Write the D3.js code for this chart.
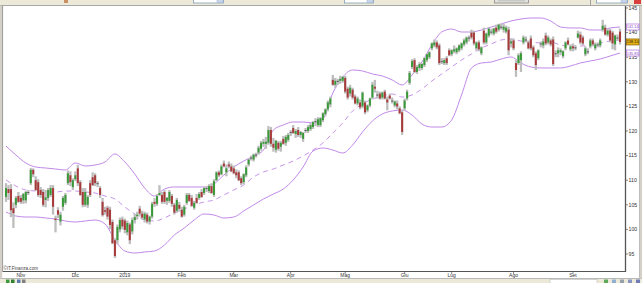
<!DOCTYPE html>
<html><head><meta charset="utf-8">
<script src="https://cdn.jsdelivr.net/npm/d3@7"></script>
<style>html,body{margin:0;padding:0;background:#fff;overflow:hidden}svg{display:block}</style>
</head><body>
<svg id="c" width="642" height="283"></svg>
<script>
// [open, high, low, close]
const candles = [
[106.6,109.4,105.6,108.4],[108.2,109.0,106.0,107.4],[108.2,109.2,102.5,103.9],[104.3,105.5,100.3,103.3],[105.0,106.8,104.3,106.4],
[106.8,107.6,105.4,105.6],[106.4,107.0,105.2,105.6],[105.9,107.4,105.2,107.2],[105.9,107.8,105.3,107.6],[107.6,108.0,107.0,107.6],
[109.4,112.5,109.0,112.1],[112.1,112.4,110.6,111.2],[110.0,110.8,107.8,108.0],[109.6,110.2,106.6,107.0],[108.0,108.6,106.4,107.0],
[107.6,108.2,104.6,105.0],[106.0,108.0,104.5,106.5],[106.4,108.4,105.8,108.0],[107.0,109.0,106.6,108.4],[108.4,109.0,103.0,104.6],
[102.2,102.8,99.4,101.9],[103.9,104.5,102.3,103.0],[101.6,103.6,100.8,103.0],[104.6,106.8,103.8,106.4],[105.4,107.4,105.0,107.0],
[109.4,112.0,109.0,111.4],[111.0,111.8,108.8,109.6],[108.6,110.4,108.0,110.0],[110.2,111.8,109.8,111.0],[112.4,113.1,108.8,109.4],
[109.6,110.0,106.8,107.0],[107.6,108.4,104.5,105.0],[105.0,108.4,104.6,107.6],[105.0,107.0,104.4,106.6],[109.4,110.0,106.6,107.0],
[110.6,111.6,108.8,109.0],[111.0,111.4,108.8,109.4],[109.2,109.8,108.6,109.4],[108.4,108.8,106.4,107.0],[105.6,106.4,102.6,102.9],
[103.9,104.6,103.0,103.6],[104.4,104.8,102.0,102.6],[104.0,104.6,100.0,100.9],[101.5,102.0,97.0,97.2],[97.8,98.2,94.2,94.6],
[97.8,101.0,97.0,100.5],[100.0,102.4,99.4,101.9],[102.0,102.6,100.0,100.6],[101.8,102.2,99.2,99.9],[99.4,101.8,98.8,101.3],
[101.0,101.4,97.0,97.8],[99.6,102.4,99.0,101.9],[101.9,103.2,101.2,102.5],[102.7,103.6,102.0,103.0],[104.2,104.8,102.6,103.2],
[103.2,103.8,102.0,102.4],[102.0,103.6,101.4,103.2],[103.0,103.4,101.2,101.6],[101.6,102.8,101.0,102.6],[102.6,105.6,102.2,105.2],
[105.6,106.4,104.6,105.2],[105.2,107.2,104.8,106.8],[107.0,109.0,106.8,107.4],[107.0,107.6,105.2,105.6],[107.6,108.0,105.2,105.6],
[105.8,106.6,105.0,106.4],[105.8,108.0,105.4,107.6],[106.8,107.2,104.6,105.2],[105.0,105.4,103.0,103.4],[103.8,106.4,103.4,106.0],
[105.0,105.6,103.6,104.2],[104.0,104.6,102.4,102.6],[103.0,105.0,102.6,104.6],[105.4,107.4,105.0,107.0],[107.0,107.4,105.6,105.8],
[106.4,107.0,104.6,104.8],[104.4,105.8,104.0,105.4],[106.4,107.2,105.2,105.4],[106.4,107.6,106.0,107.2],[107.6,108.2,106.4,106.6],
[107.4,108.6,107.0,108.4],[108.2,108.8,107.6,108.4],[107.8,109.2,107.4,108.8],[108.8,109.4,107.2,107.4],[107.0,110.2,106.6,109.8],
[110.0,111.8,109.8,111.6],[111.6,112.0,110.6,111.0],[111.2,113.2,111.0,112.8],[113.4,114.0,112.6,112.8],[111.6,113.2,110.8,112.4],
[113.2,113.8,112.4,112.8],[112.8,113.4,111.6,111.8],[112.4,113.0,111.2,111.4],[111.6,112.2,110.4,111.0],[111.6,112.0,109.8,110.0],
[110.4,110.8,109.0,109.4],[109.6,111.4,109.2,111.2],[111.0,113.0,110.6,112.6],[113.2,114.4,112.8,114.2],[114.4,115.0,114.0,114.6],
[114.2,115.4,113.8,115.2],[115.0,115.6,114.6,115.2],[115.6,117.0,115.2,116.6],[116.4,118.0,116.0,117.6],[117.4,118.4,116.8,117.8],
[117.4,118.8,116.4,117.8],[117.6,121.0,117.2,120.2],[120.2,120.8,116.8,117.4],[117.4,118.6,115.8,116.6],[116.2,118.2,115.6,118.0],
[117.6,118.0,116.0,116.4],[116.8,118.0,115.8,117.6],[118.4,119.0,117.2,117.4],[117.6,119.2,117.0,118.8],[118.2,119.6,117.8,119.2],
[119.6,120.2,119.0,119.8],[120.6,121.2,119.4,119.6],[119.4,120.4,118.6,120.0],[120.2,120.8,118.8,119.2],[119.2,120.0,118.6,119.8],
[118.4,119.8,117.8,119.6],[120.0,120.6,119.6,120.2],[120.0,121.2,119.6,120.8],[120.4,121.6,120.0,121.2],[120.8,122.0,120.4,121.8],
[121.8,122.6,121.0,122.0],[121.2,122.8,120.8,122.4],[121.2,122.8,120.8,122.6],[122.2,123.8,121.8,123.6],[123.4,124.6,123.0,124.4],
[124.4,126.2,124.0,125.8],[125.4,127.0,124.8,126.6],[130.4,131.4,129.2,129.4],[129.4,130.8,128.8,130.2],[130.0,130.6,129.4,130.2],
[130.2,131.2,129.6,130.6],[130.2,131.2,129.8,131.0],[130.8,131.2,127.6,128.0],[128.6,129.0,126.4,126.8],[127.6,129.4,127.0,128.8],
[128.4,128.8,126.4,126.8],[127.0,127.4,125.4,125.6],[125.6,127.0,125.2,126.6],[125.8,126.4,124.4,124.8],[125.0,128.0,124.6,127.8],
[125.8,126.2,123.4,123.8],[124.2,125.4,123.8,125.2],[125.2,126.8,124.8,126.6],[126.8,130.0,126.4,129.4],[129.0,130.4,127.8,128.6],
[127.4,128.2,126.6,127.2],[127.6,128.0,126.4,126.6],[126.8,128.0,126.4,127.8],[128.0,128.4,126.4,126.6],[126.4,127.0,124.2,125.8],
[127.2,127.6,126.4,126.6],[126.2,126.8,125.6,126.0],[125.2,126.2,124.8,126.0],[125.6,126.2,124.4,125.0],[124.6,125.0,123.4,123.6],
[123.8,124.2,119.2,119.8],[124.6,126.6,124.2,126.2],[126.6,128.4,126.2,128.0],[129.8,132.2,129.4,131.8],[133.0,134.6,132.6,134.2],
[134.4,134.8,131.8,132.0],[132.0,133.4,131.6,133.0],[132.8,134.0,132.2,133.6],[132.8,133.8,132.4,133.6],[133.4,135.0,133.0,134.8],
[134.4,135.8,134.0,135.6],[135.0,136.2,134.6,136.0],[136.8,138.0,136.4,137.8],[137.4,138.6,137.0,138.0],[138.0,138.4,136.6,137.0],
[137.4,137.8,133.4,133.8],[134.0,134.8,133.6,134.2],[133.8,134.8,133.4,134.4],[134.8,135.2,133.4,133.8],[136.4,136.8,135.2,135.4],
[135.6,136.6,135.2,136.4],[136.2,137.4,135.8,136.6],[136.0,137.0,135.6,136.8],[136.4,137.6,136.0,137.4],[136.8,138.0,136.4,137.8],
[137.6,138.8,137.2,138.4],[138.0,139.2,137.6,139.0],[138.8,139.4,138.2,139.0],[140.0,140.6,138.6,139.0],[140.0,140.4,137.4,137.8],
[136.8,138.2,136.4,138.0],[138.0,138.4,136.2,136.6],[135.8,137.2,135.4,137.0],[140.4,141.0,137.6,138.0],[138.0,140.0,137.6,139.8],
[139.4,141.0,139.0,140.8],[140.2,140.8,139.6,140.0],[139.8,141.0,139.4,140.8],[141.0,141.6,139.8,140.2],[140.6,141.8,140.2,141.6],
[141.2,141.8,140.6,141.0],[140.6,141.8,140.0,141.2],[140.2,141.4,139.8,141.0],[140.6,141.2,135.4,136.4],[137.8,138.8,137.0,138.2],
[138.4,138.8,136.4,136.8],[133.8,134.4,131.0,132.4],[133.8,135.8,133.4,135.4],[134.4,136.2,132.0,135.8],[138.0,139.4,137.6,139.0],
[138.4,139.2,138.0,138.6],[138.0,138.4,136.6,136.8],[138.8,139.4,136.4,136.8],[137.0,137.4,135.0,135.4],[135.8,136.2,132.4,133.4],
[134.8,136.6,134.4,136.4],[137.6,138.2,137.0,137.8],[137.4,138.8,136.8,138.2],[139.4,140.0,137.4,137.8],[138.0,139.4,137.6,139.0],
[138.4,138.8,137.2,137.6],[138.6,139.2,133.2,133.6],[135.6,136.4,135.0,135.8],[135.8,137.0,135.0,136.4],[136.0,136.8,135.4,136.4],
[135.2,136.4,134.8,136.2],[136.8,138.2,136.4,138.0],[138.4,139.0,137.4,137.6],[136.6,137.6,136.2,137.2],[137.2,137.8,136.2,136.8],
[136.8,137.4,136.4,137.0],[139.0,140.4,138.8,139.8],[139.6,140.2,137.6,138.0],[139.0,139.4,137.4,137.8],[135.6,137.2,135.2,136.8],
[136.0,136.8,135.6,136.2],[137.2,138.8,136.8,138.4],[138.4,138.8,137.2,137.6],[136.8,138.0,136.4,137.6],[137.4,138.0,137.0,137.6],
[137.4,138.8,137.0,138.4],[140.6,142.6,140.2,141.4],[141.0,141.6,139.4,139.6],[139.6,140.8,139.2,140.4],[140.4,140.8,138.0,138.4],
[140.0,140.4,136.6,137.8],[137.6,139.6,136.4,139.4],[139.0,139.6,138.4,138.8],[140.2,140.8,137.6,138.1]
];
// Bollinger bands, one value every 4 sessions starting at the first session
const bandStep = 4;
const upperBand = [116.95,115.12,113.50,112.68,112.48,112.28,112.07,113.50,112.89,113.09,113.70,115.33,113.70,111.26,108.41,106.79,108.21,108.62,108.62,108.62,108.62,109.23,111.06,112.68,113.90,114.92,116.14,120.20,121.22,121.83,121.83,121.63,122.44,127.72,130.98,132.40,132.20,131.59,131.18,130.37,129.35,131.38,134.02,137.48,140.12,140.73,140.12,140.12,140.53,141.14,141.75,142.36,142.76,142.97,142.97,142.36,141.14,140.94,140.94,140.53,140.53,140.94,141.14];
const middleBand = [110.04,108.82,108.01,107.80,107.60,107.60,107.80,107.80,107.60,107.40,106.79,106.18,104.55,103.13,101.91,101.71,102.32,103.33,104.15,104.96,105.57,105.98,106.99,108.01,109.02,110.65,111.67,112.28,113.09,113.90,114.92,116.14,117.56,119.59,121.63,124.07,125.49,126.50,127.11,127.52,126.91,127.32,128.54,130.16,131.59,133.01,134.43,135.65,136.87,137.68,138.50,138.70,138.29,138.09,137.89,138.09,137.48,137.28,137.28,137.48,137.89,138.29,138.50];
const lowerBand = [103.54,102.72,102.52,102.52,102.32,102.11,101.71,101.50,101.71,101.91,101.10,97.85,95.61,95.20,95.41,95.61,96.83,98.86,100.28,101.91,103.13,102.93,102.32,102.52,103.74,104.96,106.18,107.19,108.21,110.04,112.68,115.93,116.54,116.14,115.53,117.15,119.80,122.03,123.46,124.07,124.27,123.25,121.42,120.81,120.81,122.24,127.32,132.81,133.82,134.02,134.63,135.04,133.82,133.01,132.81,132.81,132.81,133.21,133.82,134.23,134.63,135.24,135.85];
const yTicks = [95,100,105,110,115,120,125,130,135,140,145];
const monthLabels = ["Nov","Dic","2019","Feb","Mar","Apr","Mag","Giu","Lug","Ago","Set"];
const monthStartIndex = [6,28,48,71,92,115,137,161,180,205,229];
const sourceLabel = "\u00A9IT.Finanza.com";

const svg = d3.select("#c");
const P = {left:3, right:625, top:6, bottom:271};
const x = d3.scaleLinear().domain([0, candles.length-1]).range([6, 620]);
const y = d3.scaleLinear().domain([95,145]).range([254,8]);
const font = "Liberation Sans, Arial, sans-serif";

// page / chrome
svg.append("rect").attr("width",642).attr("height",283).attr("fill","#fff");
svg.append("rect").attr("x",0).attr("y",0).attr("width",642).attr("height",5.5).attr("fill","#ece9d8");
svg.append("line").attr("x1",0).attr("x2",642).attr("y1",5.5).attr("y2",5.5).attr("stroke","#a8a8a8").attr("stroke-width",1);
[[193,30],[344,29],[596,31]].forEach(([bx,bw])=>{
  svg.append("rect").attr("x",bx+0.5).attr("y",-2).attr("width",bw).attr("height",5).attr("fill","#fff").attr("stroke","#7f9db9").attr("stroke-width",0.8);
  svg.append("rect").attr("x",bx+bw-6).attr("y",-1.5).attr("width",6).attr("height",4).attr("fill","#c8d4ec").attr("stroke","#9aaccc").attr("stroke-width",0.5);
});
svg.append("rect").attr("x",494.5).attr("y",-2).attr("width",34).attr("height",5).attr("fill","#e4e2da").attr("stroke","#8a8a8a").attr("stroke-width",0.8);
svg.append("rect").attr("x",498).attr("y",-0.5).attr("width",27).attr("height",2).attr("fill","#c8c8c8");
svg.append("rect").attr("x",64).attr("y",0).attr("width",4).attr("height",3).attr("fill","#c89060");
svg.append("line").attr("x1",590.5).attr("x2",590.5).attr("y1",0).attr("y2",5).attr("stroke","#a0a0a0");
svg.append("rect").attr("x",634).attr("y",-1).attr("width",7).attr("height",5).attr("fill","#d84040");

// bottom toolbar
svg.append("rect").attr("x",0).attr("y",278.5).attr("width",642).attr("height",5).attr("fill","#ece9d8");
svg.append("line").attr("x1",0).attr("x2",642).attr("y1",278.5).attr("y2",278.5).attr("stroke","#b8b8b8");
[[6,"#3a9a3a"],[11,"#2f7f2f"],[17,"#5a7ab0"],[22,"#808080"]].forEach(([ix,c])=>{
  svg.append("rect").attr("x",ix).attr("y",279.5).attr("width",3.5).attr("height",3.5).attr("fill",c);
});
svg.append("rect").attr("x",550).attr("y",279.5).attr("width",47).attr("height",4).attr("fill","#fff").attr("stroke","#b0b0b0").attr("stroke-width",0.5);
[[604,"#3a9a3a"],[612,"#7aa0d0"],[620,"#8090a0"],[628,"#7080c0"],[636,"#5060b0"]].forEach(([ix,c])=>{
  svg.append("rect").attr("x",ix).attr("y",279.5).attr("width",4).attr("height",3.5).attr("fill",c).attr("opacity",0.8);
});

// left & right frames
svg.append("rect").attr("x",0).attr("y",5.5).attr("width",2.2).attr("height",273).attr("fill","#d4d0c8");
svg.append("line").attr("x1",2.6).attr("x2",2.6).attr("y1",5.5).attr("y2",272).attr("stroke","#8c8c8c").attr("stroke-width",0.9);
svg.append("rect").attr("x",639.5).attr("y",5.5).attr("width",2.5).attr("height",273).attr("fill","#d4d0c8");
svg.append("line").attr("x1",639.5).attr("x2",639.5).attr("y1",5.5).attr("y2",278).attr("stroke","#a0a0a0").attr("stroke-width",0.6);

// clip for plot
svg.append("defs").append("clipPath").attr("id","pc").append("rect")
  .attr("x",P.left+0.5).attr("y",P.top).attr("width",P.right-P.left-0.5).attr("height",P.bottom-P.top);
const g = svg.append("g").attr("clip-path","url(#pc)");

// bands
const bandLine = d3.line().x((d,i)=>x(i*bandStep)).y(d=>y(d)).curve(d3.curveMonotoneX);
const bandColor = "#c088e8";
g.append("path").attr("d",bandLine(upperBand)).attr("fill","none").attr("stroke",bandColor).attr("stroke-width",1);
g.append("path").attr("d",bandLine(lowerBand)).attr("fill","none").attr("stroke",bandColor).attr("stroke-width",1);
g.append("path").attr("d",bandLine(middleBand)).attr("fill","none").attr("stroke",bandColor).attr("stroke-width",0.9).attr("stroke-dasharray","5,4");

// candles
const cg = g.append("g");
cg.selectAll("rect.w").data(candles).join("rect").attr("class","w")
  .attr("x",(d,i)=>x(i)-1.15).attr("width",2.3)
  .attr("y",d=>y(d[1])).attr("height",d=>Math.max(1,y(d[2])-y(d[1])))
  .attr("fill","#bdbdbd");
cg.selectAll("rect.b").data(candles).join("rect").attr("class","b")
  .attr("x",(d,i)=>x(i)-1).attr("width",2)
  .attr("y",d=>y(Math.max(d[0],d[3])))
  .attr("height",d=>Math.max(1,Math.abs(y(d[0])-y(d[3]))))
  .attr("fill",d=>Math.abs(d[0]-d[3])<0.25?"#505050":(d[3]>d[0]?"#3a9a3a":"#a83a3a"));

// axes lines
svg.append("line").attr("x1",P.left).attr("x2",P.right).attr("y1",P.bottom+0.5).attr("y2",P.bottom+0.5).attr("stroke","#555").attr("stroke-width",1.2);
svg.append("line").attr("x1",P.right+0.5).attr("x2",P.right+0.5).attr("y1",P.top).attr("y2",P.bottom+1).attr("stroke","#555").attr("stroke-width",1.3);

// y ticks
const yt = svg.append("g");
yTicks.forEach(t=>{
  yt.append("line").attr("x1",P.right+1).attr("x2",P.right+3).attr("y1",y(t)).attr("y2",y(t)).attr("stroke","#555").attr("stroke-width",0.7);
  yt.append("text").attr("x",P.right+3.5).attr("y",y(t)+1.8).text(t)
    .attr("font-family",font).attr("font-size",5.2).attr("fill","#333");
});

// x ticks
const xt = svg.append("g");
monthStartIndex.forEach((mi,k)=>{
  const xx = x(mi);
  xt.append("line").attr("x1",xx).attr("x2",xx).attr("y1",P.bottom+1).attr("y2",P.bottom+3).attr("stroke","#555").attr("stroke-width",0.7);
  xt.append("text").attr("x",xx).attr("y",277.3).attr("text-anchor","middle").text(monthLabels[k])
    .attr("font-family",font).attr("font-size",5).attr("fill","#333");
});

// source label
svg.append("text").attr("x",3.5).attr("y",270).text(sourceLabel)
  .attr("font-family",font).attr("font-size",4.6).attr("fill","#444");

// value boxes on the right axis
const fmt = d3.format(".2f");
const lastIdx = candles.length-1;
const boxes = [
  {v: upperBand[upperBand.length-1], fill:"#fff", stroke:"#b070e0", text:"#9040c0"},
  {v: candles[lastIdx][3], fill:"#e8b010", stroke:"#806000", text:"#222"},
  {v: lowerBand[lowerBand.length-1], fill:"#fff", stroke:"#b070e0", text:"#9040c0"}
];
boxes.forEach(b=>{
  const yy = y(b.v);
  svg.append("rect").attr("x",626.5).attr("y",yy-3).attr("width",12.5).attr("height",6)
    .attr("fill",b.fill).attr("stroke",b.stroke).attr("stroke-width",0.7);
  svg.append("text").attr("x",632.75).attr("y",yy+1.5).attr("text-anchor","middle").text(fmt(b.v))
    .attr("font-family",font).attr("font-size",3.9).attr("fill",b.text);
});
</script>
</body></html>
